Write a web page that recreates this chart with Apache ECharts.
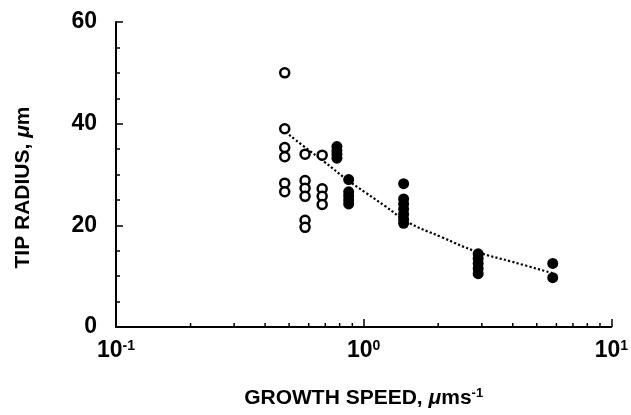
<!DOCTYPE html>
<html>
<head>
<meta charset="utf-8">
<script src="https://cdn.jsdelivr.net/npm/echarts@6/dist/echarts.min.js"></script>
<style>
html,body{margin:0;padding:0;background:#fff;}
#chart{width:631px;height:415px;}
</style>
</head>
<body>
<div id="chart"></div>
<script>
// Open circles (growth speed, tip radius)
const openSpeed  = [0.48, 0.48, 0.48, 0.48, 0.48, 0.48, 0.58, 0.58, 0.58, 0.58, 0.58, 0.58, 0.68, 0.68, 0.68, 0.68];
const openRadius = [50,   39,   35.3, 33.5, 28.3, 26.6, 34,   28.8, 27.3, 25.7, 21,   19.6, 33.8, 27.2, 25.7, 24.1];
// Filled circles
const filledSpeed  = [0.78, 0.78, 0.78, 0.78, 0.87, 0.87, 0.87, 0.87, 0.87, 1.45, 1.45, 1.45, 1.45, 1.45, 1.45, 1.45, 2.9, 2.9, 2.9, 2.9, 2.9, 5.8, 5.8];
const filledRadius = [35.5, 34.7, 34,   33.2, 29,   26.6, 25.8, 25,   24.2, 28.2, 25.2, 24.2, 23.2, 22.2, 21.2, 20.4, 14.4, 13.5, 12.5, 11.5, 10.5, 12.5, 9.7];
// Dotted fit curve
const fitSpeed  = [0.5, 0.6, 0.69, 0.85, 1.02, 1.22, 1.51, 2.06, 2.86, 4, 5.78];
const fitRadius = [37.8, 34.8, 32.6, 29.1, 26.4, 23.8, 20.6, 17.7, 14.8, 12.8, 10.6];
// Axis ticks
const xMinorTicks = [0.2, 0.3, 0.4, 0.5, 0.6, 0.7, 0.8, 0.9, 2, 3, 4, 5, 6, 7, 8, 9];
const yTicks = [0, 20, 40, 60];

const FONT = '"Liberation Sans", Arial, Helvetica, sans-serif';
const zip = (a, b) => a.map((v, i) => [v, b[i]]);

const chart = echarts.init(document.getElementById('chart'), null, {renderer: 'canvas'});
chart.setOption({
  animation: false,
  backgroundColor: '#fff',
  grid: {left: 116, right: 11, top: 22, bottom: 88, containLabel: false},
  xAxis: {
    type: 'log', logBase: 10, min: 0.1, max: 10,
    axisLine: {lineStyle: {color: '#000', width: 2}},
    axisTick: {inside: true, length: 8, lineStyle: {color: '#000', width: 1.5}},
    splitLine: {show: false},
    axisLabel: {
      margin: 12, color: '#000',
      formatter: function (v) {
        const e = Math.round(Math.log10(v));
        return '{b|10}{s|' + e + '}';
      },
      rich: {
        b: {fontFamily: FONT, fontSize: 23, fontWeight: 'bold', color: '#000'},
        s: {fontFamily: FONT, fontSize: 14, fontWeight: 'bold', color: '#000', verticalAlign: 'top', padding: [0, 0, 10, 0]}
      }
    },
    name: '{t|GROWTH SPEED, }{i|μ}{t|ms}{s|-1}',
    nameLocation: 'middle', nameGap: 60,
    nameTextStyle: {
      rich: {
        t: {fontFamily: FONT, fontSize: 21, fontWeight: 'bold', color: '#000'},
        i: {fontFamily: FONT, fontSize: 21, fontWeight: 'bold', fontStyle: 'italic', color: '#000'},
        s: {fontFamily: FONT, fontSize: 13, fontWeight: 'bold', color: '#000', verticalAlign: 'top', padding: [0, 0, 10, 0]}
      }
    }
  },
  yAxis: {
    type: 'value', min: 0, max: 60, interval: 20,
    axisLine: {show: true, lineStyle: {color: '#000', width: 2}},
    axisTick: {show: true, inside: true, length: 7, lineStyle: {color: '#000', width: 1.5}},
    minorTick: {show: true, splitNumber: 4, length: 4, lineStyle: {color: '#000', width: 1.5}},
    splitLine: {show: false},
    axisLabel: {
      margin: 19, color: '#000', fontFamily: FONT, fontSize: 23, fontWeight: 'bold',
      formatter: function (v) { return yTicks.indexOf(v) >= 0 ? String(v) : ''; }
    },
    name: '{t|TIP RADIUS, }{i|μ}{t|m}',
    nameLocation: 'middle', nameGap: 82, nameRotate: 90,
    nameTextStyle: {
      padding: [0, 26, 0, 0],
      rich: {
        t: {fontFamily: FONT, fontSize: 21, fontWeight: 'bold', color: '#000'},
        i: {fontFamily: FONT, fontSize: 21, fontWeight: 'bold', fontStyle: 'italic', color: '#000'}
      }
    }
  },
  series: [
    {
      type: 'custom', silent: true, clip: false, z: 1,
      data: xMinorTicks.map(v => [v, 0]),
      renderItem: function (params, api) {
        const p = api.coord([api.value(0), 0]);
        return {type: 'line', shape: {x1: p[0], y1: p[1], x2: p[0], y2: p[1] - 4},
          style: {stroke: '#000', lineWidth: 1.5}};
      }
    },
    {
      type: 'line', smooth: 0.4, symbol: 'none', z: 2,
      data: zip(fitSpeed, fitRadius),
      lineStyle: {color: '#000', width: 2.2, type: [2.2, 2.2]}
    },
    {
      type: 'scatter', z: 3, symbol: 'circle', symbolSize: 9,
      data: zip(openSpeed, openRadius),
      itemStyle: {color: '#fff', borderColor: '#000', borderWidth: 2.5, opacity: 1}
    },
    {
      type: 'scatter', z: 4, symbol: 'circle', symbolSize: 11,
      data: zip(filledSpeed, filledRadius),
      itemStyle: {color: '#000', opacity: 1}
    }
  ]
});
</script>
</body>
</html>
